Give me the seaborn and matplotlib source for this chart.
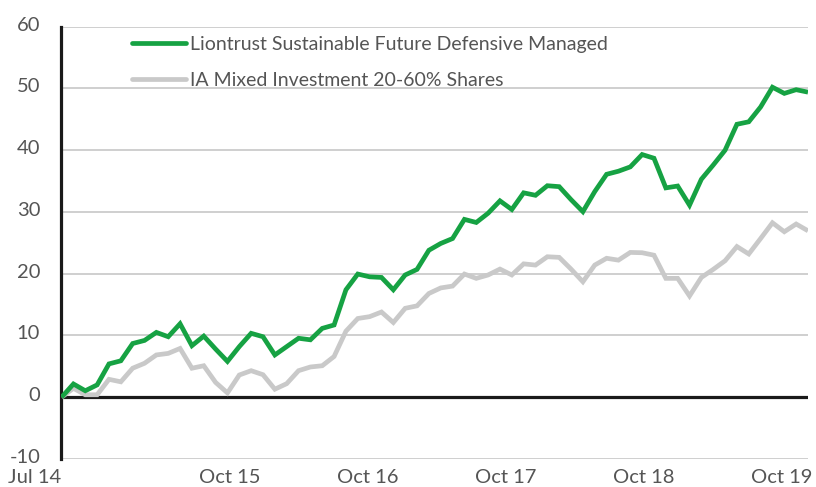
import numpy as np
import pandas as pd
import matplotlib
matplotlib.use("Agg")
import matplotlib.pyplot as plt
import matplotlib.transforms as mtransforms
import seaborn as sns
from matplotlib.lines import Line2D

# ---------------- data ----------------
series_names = ["Liontrust Sustainable Future Defensive Managed",
                "IA Mixed Investment 20-60% Shares"]

liontrust = [0.0, 2.15, 1.05, 2.0, 5.4, 5.9, 8.7, 9.2, 10.5, 9.8,
             11.9, 8.35, 9.9, 7.8, 5.8, 8.2, 10.35, 9.8, 6.85, 8.2,
             9.55, 9.3, 11.15, 11.7, 17.4, 19.95, 19.5, 19.4, 17.4, 19.8,
             20.7, 23.8, 24.9, 25.7, 28.8, 28.3, 29.8, 31.8, 30.4, 33.1,
             32.7, 34.25, 34.1, 32.0, 30.05, 33.3, 36.1, 36.6, 37.3, 39.3,
             38.7, 33.9, 34.2, 31.1, 35.3, 37.6, 40.0, 44.2, 44.6, 47.0,
             50.2, 49.2, 49.8, 49.4]

ia_mixed = [0.0, 1.45, 0.4, 0.4, 2.9, 2.5, 4.7, 5.5, 6.85, 7.1,
            7.9, 4.7, 5.1, 2.4, 0.7, 3.6, 4.3, 3.65, 1.3, 2.2,
            4.3, 4.9, 5.1, 6.6, 10.7, 12.75, 13.05, 13.8, 12.1, 14.4,
            14.8, 16.8, 17.7, 18.0, 19.95, 19.25, 19.8, 20.75, 19.8, 21.6,
            21.4, 22.75, 22.65, 20.75, 18.7, 21.4, 22.5, 22.2, 23.45, 23.4,
            23.0, 19.25, 19.25, 16.4, 19.4, 20.7, 22.1, 24.4, 23.2, 25.7,
            28.25, 26.8, 28.05, 26.95]

x_tick_labels = ["Jul 14", "Oct 15", "Oct 16", "Oct 17", "Oct 18", "Oct 19"]
y_ticks = [-10, 0, 10, 20, 30, 40, 50, 60]

# ---------------- layout / style ----------------
x_tick_pos = [0, 14.2, 25.85, 37.5, 49.15, 60.8]
GREEN = "#16A243"
GREY = "#C9C9C9"
TEXT = "#555555"
FS = 14.5
LEG_FS = 14.0

sns.set_theme(style="white")
plt.rcParams["font.family"] = ["Lato", "DejaVu Sans"]

idx = np.arange(len(liontrust))
df = pd.DataFrame({
    "month": np.concatenate([idx, idx]),
    "value": liontrust + ia_mixed,
    "series": [series_names[0]] * len(idx) + [series_names[1]] * len(idx),
})

fig = plt.figure(figsize=(8.16, 4.87), dpi=100)
ax = fig.add_axes([61 / 816, 1 - 459 / 487, (808 - 61) / 816, (459 - 26.7) / 487])

for yv in y_ticks:
    if yv != 0:
        ax.axhline(yv, color="#cfcfcf", lw=1.4, zorder=1)
ax.axhline(0, color="#1a1a1a", lw=2.3, zorder=2)

sns.lineplot(data=df, x="month", y="value", hue="series",
             hue_order=[series_names[1], series_names[0]],
             palette={series_names[0]: GREEN, series_names[1]: GREY},
             lw=3.4, ax=ax, legend=False, zorder=3,
             solid_joinstyle="miter", solid_capstyle="butt")

ax.set_xlim(-0.05, 63.0)
ax.set_ylim(-10, 60)
ax.set_yticks(y_ticks)
ax.set_yticklabels([str(v) for v in y_ticks])
ax.set_xticks(x_tick_pos)
ax.set_xticklabels(x_tick_labels)
ax.set_xlabel("")
ax.set_ylabel("")
ax.tick_params(axis="y", length=0, pad=15, labelsize=FS, labelcolor=TEXT)
ax.tick_params(axis="x", length=0, pad=7, labelsize=FS, labelcolor=TEXT)
ax.get_xticklabels()[0].set_horizontalalignment("right")

# nudge y labels up a couple of pixels, as in the reference
up = mtransforms.ScaledTranslation(0, 3 / 100, fig.dpi_scale_trans)
for lab in ax.get_yticklabels():
    lab.set_transform(lab.get_transform() + up)

for s in ["top", "right", "bottom"]:
    ax.spines[s].set_visible(False)
ax.spines["left"].set_color("#1a1a1a")
ax.spines["left"].set_linewidth(2.3)
ax.grid(False)

handles = [Line2D([], [], color=GREEN, lw=3.4, solid_capstyle="round"),
           Line2D([], [], color=GREY, lw=3.4, solid_capstyle="round")]
leg = fig.legend(handles, series_names, loc="upper left",
                 bbox_to_anchor=(124 / 816, 1 - 28 / 487),
                 frameon=False, fontsize=LEG_FS, handlelength=2.8,
                 handletextpad=0.2, labelspacing=1.0, borderaxespad=0)
for t in leg.get_texts():
    t.set_color(TEXT)

fig.savefig("out.png", dpi=100)
